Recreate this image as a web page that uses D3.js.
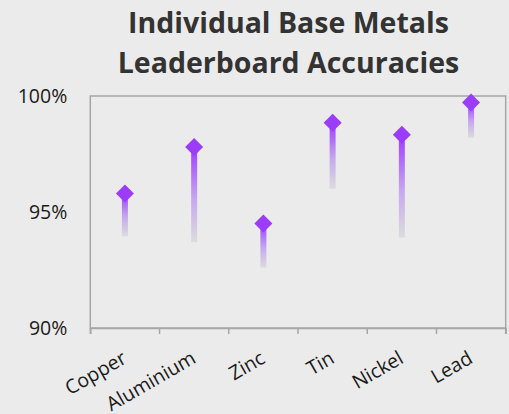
<!DOCTYPE html>
<html><head><meta charset="utf-8">
<script src="https://cdn.jsdelivr.net/npm/d3@7"></script>
<style>html,body{margin:0;padding:0;background:#ebebeb;}</style>
</head><body>
<svg id="c" width="509" height="414"></svg>
<script>
const categories = ["Copper","Aluminium","Zinc","Tin","Nickel","Lead"];
const highValues = [95.8, 97.8, 94.5, 98.85, 98.33, 99.72];
const lowValues  = [93.95, 93.7, 92.6, 96.0, 93.9, 98.2];
const yTicks = [90, 95, 100];
const titleLines = ["Individual Base Metals","Leaderboard Accuracies"];

const W = 509, H = 414;
const m = {left: 90.3, right: 3.3, top: 96, bottom: 86};
const svg = d3.select("#c");
svg.append("rect").attr("width",W).attr("height",H).attr("fill","#ebebeb");

const x = d3.scaleBand().domain(categories).range([m.left, W - m.right]);
const y = d3.scaleLinear().domain([90,100]).range([H - m.bottom, m.top]);

// title
svg.append("g").selectAll("text").data(titleLines).join("text")
  .attr("x", 288.5).attr("y", (d,i)=>33 + i*40)
  .attr("text-anchor","middle")
  .attr("font-family","'Open Sans', sans-serif").attr("font-weight","bold")
  .attr("font-size", 28.5).attr("fill","#333333").text(d=>d);

// plot border
svg.append("rect").attr("x", m.left).attr("y", m.top)
  .attr("width", W - m.right - m.left).attr("height", H - m.bottom - m.top)
  .attr("fill","none").attr("stroke","#a6a6a6").attr("stroke-width",1.5);

// x axis
const xAxis = d3.axisBottom(x).tickSize(6).tickSizeOuter(6).tickFormat(d=>d);
const gx = svg.append("g").attr("transform",`translate(0,${H - m.bottom})`).call(xAxis);
gx.select(".domain").attr("stroke","#a6a6a6").attr("stroke-width",1.5);
gx.selectAll(".tick line").remove();
const bounds = categories.map(c=>x(c)).concat([x(categories[categories.length-1]) + x.bandwidth()]);
gx.selectAll("line.bnd").data(bounds).join("line").attr("class","bnd")
  .attr("x1",d=>d).attr("x2",d=>d).attr("y1",0).attr("y2",6)
  .attr("stroke","#a6a6a6").attr("stroke-width",1.5);
gx.selectAll(".tick text")
  .attr("font-family","'Open Sans', sans-serif").attr("font-size",19.5).attr("fill","#1a1a1a")
  .attr("text-anchor","end").attr("dy",0).attr("y",0)
  .attr("transform","translate(3,34) rotate(-30)");

// y axis
const yAxis = d3.axisLeft(y).tickValues(yTicks).tickSize(0).tickFormat(d=>d+"%");
const gy = svg.append("g").attr("transform",`translate(${m.left},0)`).call(yAxis);
gy.select(".domain").remove();
gy.selectAll(".tick text").attr("x",-23).attr("dy","0.34em")
  .attr("font-family","'Open Sans', sans-serif").attr("font-size",19.5).attr("fill","#1a1a1a");

// gradient
const defs = svg.append("defs");
const grad = defs.append("linearGradient").attr("id","g1")
  .attr("x1",0).attr("y1",0).attr("x2",0).attr("y2",1);
grad.append("stop").attr("offset","0%").attr("stop-color","#9d3bff");
grad.append("stop").attr("offset","55%").attr("stop-color","#c6a9ee");
grad.append("stop").attr("offset","100%").attr("stop-color","#dcdcdc");

const data = categories.map((c,i)=>({c, hi:highValues[i], lo:lowValues[i]}));
const bw = 6;
svg.append("g").selectAll("rect").data(data).join("rect")
  .attr("x", d=>x(d.c)+x.bandwidth()/2 - bw/2)
  .attr("y", d=>y(d.hi))
  .attr("width", bw)
  .attr("height", d=>y(d.lo)-y(d.hi))
  .attr("fill","url(#g1)");

const r = 9;
svg.append("g").selectAll("path").data(data).join("path")
  .attr("d", d=>{const cx=x(d.c)+x.bandwidth()/2, cy=y(d.hi);
    return `M${cx},${cy-r}L${cx+r},${cy}L${cx},${cy+r}L${cx-r},${cy}Z`;})
  .attr("fill","#9b3cf8");
</script>
</body></html>
